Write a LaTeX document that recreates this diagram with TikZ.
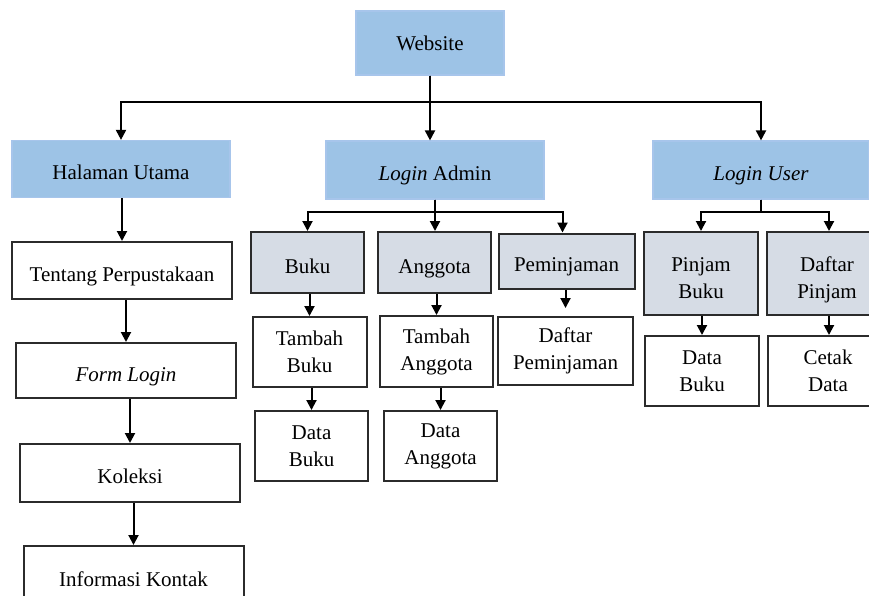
\documentclass[tikz,border=0pt]{standalone}
\usepackage{fontspec}
\setmainfont{Liberation Serif}
\usetikzlibrary{arrows.meta}
\definecolor{topblue}{HTML}{9DC3E6}
\definecolor{topedge}{HTML}{A7C5EB}
\definecolor{subgray}{HTML}{D6DCE5}
\definecolor{edgedark}{HTML}{2B2B2B}
\begin{document}
\begin{tikzpicture}[x=1pt,y=-1pt,
  box/.style={rectangle, inner sep=0pt, align=center,
    font=\fontsize{21}{27}\selectfont},
  oneline/.style={text height=21pt, text depth=0pt},
  lowtwo/.style={text height=49pt, text depth=0pt},
  rootbox/.style={box, fill=topblue, draw=topedge, line width=1.2pt},
  topbox/.style={rootbox, oneline},
  midbox/.style={box, fill=subgray, draw=edgedark, line width=2pt},
  leafbox/.style={box, fill=white, draw=edgedark, line width=2pt},
  arr/.style={draw=black, line width=2pt,
    -{Triangle[width=10pt,length=10pt]}}]
\useasboundingbox (0,0) rectangle (869,595);
\clip (0,0) rectangle (869,595);

% top level
\node[rootbox, minimum width=148pt, minimum height=64pt] (web) at (430,43) {Website};

% second level
\node[topbox, minimum width=218pt, minimum height=57pt] (hu) at (121,169) {Halaman Utama};
\node[topbox, minimum width=218pt, minimum height=58pt] (la) at (435,170) {\textit{Login} Admin};
\node[topbox, minimum width=216pt, minimum height=58pt] (lu) at (761,170) {\textit{Login User}};

% main page column
\node[leafbox, oneline, minimum width=220pt, minimum height=57pt] (tp) at (122,270.5) {Tentang Perpustakaan};
\node[leafbox, oneline, minimum width=220pt, minimum height=55pt] (fl) at (126,370.5) {\textit{Form Login}};
\node[leafbox, oneline, minimum width=220pt, minimum height=58pt] (ko) at (130,473) {Koleksi};
\node[leafbox, oneline, minimum width=220pt, minimum height=60pt] (ik) at (133.5,576) {Informasi Kontak};

% admin branch
\node[midbox, oneline, minimum width=113pt, minimum height=61pt] (bk) at (307.5,262.5) {Buku};
\node[midbox, oneline, minimum width=113pt, minimum height=61pt] (an) at (434.5,262.5) {Anggota};
\node[midbox, oneline, minimum width=136pt, minimum height=55pt] (pm) at (566.5,261) {Peminjaman};
\node[leafbox, minimum width=114pt, minimum height=70pt] (tb) at (309.5,352) {Tambah\\Buku};
\node[leafbox, minimum width=113pt, minimum height=71pt] (ta) at (436.5,351.5) {Tambah\\Anggota};
\node[leafbox, minimum width=135pt, minimum height=68pt] (dpm) at (565.5,351) {Daftar\\Peminjaman};
\node[leafbox, minimum width=113pt, minimum height=70pt] (db) at (311.5,446) {Data\\Buku};
\node[leafbox, minimum width=113pt, minimum height=70pt] (da) at (440.5,446) {Data\\Anggota};

% user branch
\node[midbox, lowtwo, minimum width=114pt, minimum height=83pt] (pb) at (701,273.5) {Pinjam\\Buku};
\node[midbox, lowtwo, minimum width=120pt, minimum height=83pt] (dp) at (827,273.5) {Daftar\\Pinjam};
\node[leafbox, minimum width=114pt, minimum height=70pt] (db2) at (702,371) {Data\\Buku};
\node[leafbox, minimum width=120pt, minimum height=70pt] (cd) at (828,371) {Cetak\\Data};

% website to second level
\draw[arr] (web.south) -- ++(0,26) -| (hu.north);
\draw[arr] (web.south) -- (web.south |- la.north);
\draw[arr] (web.south) -- ++(0,26) -| (lu.north);

% main page chain
\draw[arr] (tp.north |- hu.south) -- (tp.north);
\draw[arr] (fl.north |- tp.south) -- (fl.north);
\draw[arr] (ko.north |- fl.south) -- (ko.north);
\draw[arr] (ik.north |- ko.south) -- (ik.north);

% admin branch
\draw[arr] (la.south) -- ++(0,12) -| (bk.north);
\draw[arr] (la.south) -- (la.south |- an.north);
\draw[arr] (la.south) -- ++(0,12) -| ([xshift=-4pt]pm.north);
\draw[arr] (tb.north |- bk.south) -- (tb.north);
\draw[arr] (ta.north |- an.south) -- (ta.north);
\draw[arr, shorten >=8pt] (dpm.north |- pm.south) -- (dpm.north);
\draw[arr] (db.north |- tb.south) -- (db.north);
\draw[arr] (da.north |- ta.south) -- (da.north);

% user branch
\draw[arr] (lu.south) -- ++(0,12) -| (pb.north);
\draw[arr] (lu.south) -- ++(0,12) -| ([xshift=2pt]dp.north);
\draw[arr] (db2.north |- pb.south) -- (db2.north);
\draw[arr] ([xshift=2pt]dp.south) -- ([xshift=1pt]cd.north);
\end{tikzpicture}
\end{document}
